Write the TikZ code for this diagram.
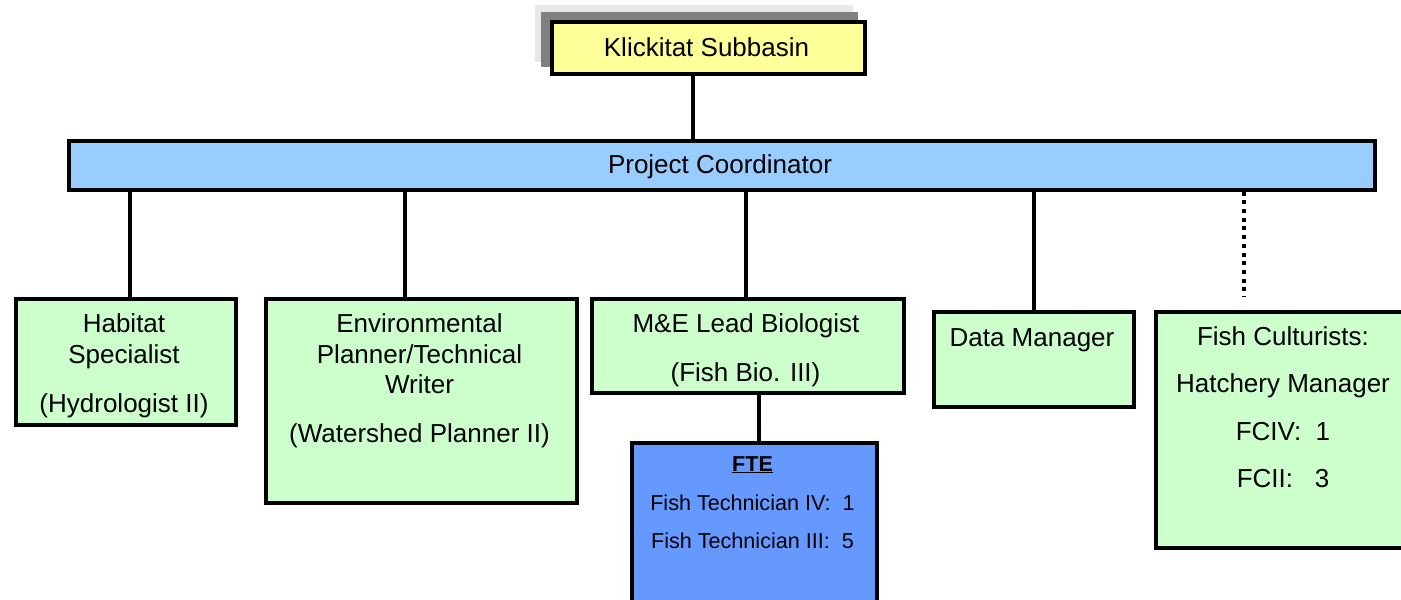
\documentclass[tikz,border=0pt]{standalone}
\usepackage{fontspec}
\setmainfont{Liberation Sans}
\definecolor{kyellow}{HTML}{FFFF99}
\definecolor{kblue}{HTML}{99CCFF}
\definecolor{kgreen}{HTML}{CCFFCC}
\definecolor{kfte}{HTML}{6699FF}
\definecolor{kdark}{HTML}{808080}
\definecolor{klight}{HTML}{E8E8E8}
\begin{document}
\begin{tikzpicture}[x=1pt,y=-1pt,
  box/.style={draw=black, line width=3.6pt, rectangle, inner sep=0pt, anchor=north west},
  shadowbox/.style={rectangle, inner sep=0pt, anchor=north west, draw=none},
  big/.style={font=\fontsize{26}{30}\selectfont, anchor=base, inner sep=0pt},
  small/.style={font=\fontsize{21.6}{26}\selectfont, anchor=base, inner sep=0pt},
  link/.style={line width=3.8pt},
  dotlink/.style={line width=4pt, dash pattern=on 4pt off 4.7pt}
]
\useasboundingbox (0,0) rectangle (1401,600);
\clip (0,0) rectangle (1401,600);

% shadows of top box
\node[shadowbox, fill=klight, minimum width=318pt, minimum height=57pt] (sh1) at (535,5) {};
\node[shadowbox, fill=kdark, minimum width=317pt, minimum height=55pt] (sh2) at (541,12) {};
% top box
\node[box, fill=kyellow, minimum width=313pt, minimum height=52pt] (kl) at (550,20) {};
\node[big] (kltxt) at (706.5,56.5) {Klickitat Subbasin};

% project coordinator
\node[box, fill=kblue, minimum width=1306pt, minimum height=49pt] (pc) at (67,139) {};
\node[big] (pctxt) at (720,173) {Project Coordinator};

% second level boxes
\node[box, fill=kgreen, minimum width=220pt, minimum height=126pt] (hab) at (14,297) {};
\node[big] (hab1) at (124,332) {Habitat};
\node[big] (hab2) at (124,363.5) {Specialist};
\node[big] (hab3) at (124,412) {(Hydrologist II)};

\node[box, fill=kgreen, minimum width=311pt, minimum height=204pt] (env) at (264,297) {};
\node[big] (env1) at (419.5,332) {Environmental};
\node[big] (env2) at (419.5,363) {Planner/Technical};
\node[big] (env3) at (419.5,393.5) {Writer};
\node[big] (env4) at (419.5,442) {(Watershed Planner II)};

\node[box, fill=kgreen, minimum width=312pt, minimum height=94pt] (me) at (590,297) {};
\node[big] (me1) at (746,332) {M\&E Lead Biologist};
\node[big] (me2) at (745.5,381) {(Fish Bio. III)};

\node[box, fill=kfte, minimum width=245pt, minimum height=210pt] (fte) at (630,441) {};
\node[small, font=\fontsize{21.6}{26}\selectfont\bfseries] (fte1) at (752.5,471) {\underline{FTE}};
\node[small] (fte2) at (752.5,510) {Fish Technician IV:\ \ 1};
\node[small] (fte3) at (752.5,548) {Fish Technician III:\ \ 5};

\node[box, fill=kgreen, minimum width=200pt, minimum height=95pt] (dm) at (932,310) {};
\node[big] (dm1) at (1032,346) {Data Manager};

\node[box, fill=kgreen, minimum width=258pt, minimum height=236pt] (fc) at (1154,310) {};
\node[big] (fc1) at (1283,345) {Fish Culturists:};
\node[big] (fc2) at (1283,392) {Hatchery Manager};
\node[big] (fc3) at (1283,440) {FCIV:\ \ 1};
\node[big] (fc4) at (1283,487) {FCII:\ \ \ 3};

% connector x positions
\coordinate (x0) at (693,0);
\coordinate (x1) at (130,0);
\coordinate (x2) at (405,0);
\coordinate (x3) at (746,0);
\coordinate (x4) at (1034,0);
\coordinate (x5) at (1244,0);
\coordinate (x6) at (759,0);
\coordinate (fcend) at (1244,297);

\draw[link] (x0 |- kl.south) -- (x0 |- pc.north);
\draw[link] (x1 |- pc.south) -- (x1 |- hab.north);
\draw[link] (x2 |- pc.south) -- (x2 |- env.north);
\draw[link] (x3 |- pc.south) -- (x3 |- me.north);
\draw[link] (x4 |- pc.south) -- (x4 |- dm.north);
\draw[dotlink] (x5 |- pc.south) -- (fcend);
\draw[link] (x6 |- me.south) -- (x6 |- fte.north);
\end{tikzpicture}
\end{document}
